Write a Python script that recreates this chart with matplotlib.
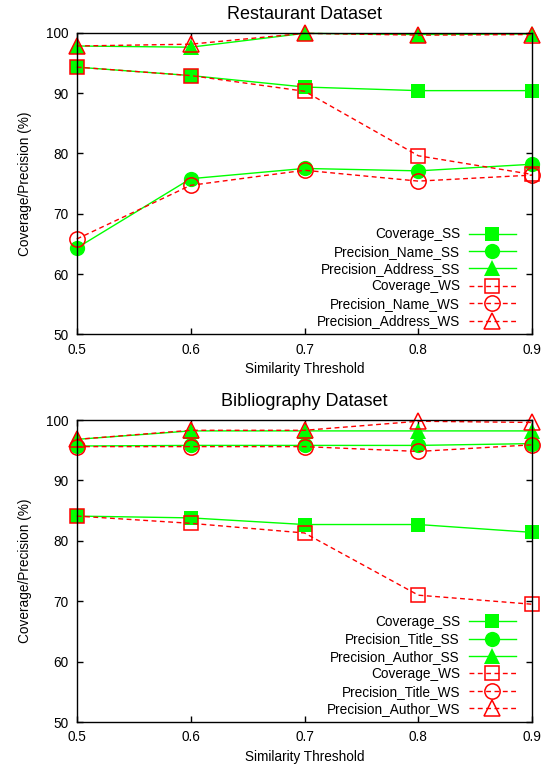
import matplotlib
matplotlib.use('Agg')
import matplotlib.pyplot as plt

plt.rcParams['font.family'] = ['Liberation Sans', 'DejaVu Sans']

thresholds = [0.5, 0.6, 0.7, 0.8, 0.9]
x_ticks = [0.5, 0.6, 0.7, 0.8, 0.9]
y_ticks = [50, 60, 70, 80, 90, 100]

# Restaurant dataset
rest_coverage_ss = [94.3, 92.9, 91.0, 90.4, 90.4]
rest_name_ss = [64.3, 75.8, 77.5, 77.1, 78.2]
rest_address_ss = [97.8, 97.6, 99.9, 99.7, 99.8]
rest_coverage_ws = [94.3, 92.9, 90.3, 79.6, 76.5]
rest_name_ws = [65.8, 74.7, 77.2, 75.4, 76.4]
rest_address_ws = [97.8, 98.1, 99.9, 99.6, 99.7]
rest_labels = ['Coverage_SS', 'Precision_Name_SS', 'Precision_Address_SS',
               'Coverage_WS', 'Precision_Name_WS', 'Precision_Address_WS']

# Bibliography dataset
bib_coverage_ss = [84.1, 83.8, 82.7, 82.7, 81.4]
bib_title_ss = [95.7, 95.8, 95.8, 95.8, 96.1]
bib_author_ss = [96.8, 98.2, 98.2, 98.2, 98.2]
bib_coverage_ws = [84.1, 82.9, 81.3, 71.0, 69.5]
bib_title_ws = [95.6, 95.6, 95.6, 94.8, 95.9]
bib_author_ws = [96.8, 98.3, 98.3, 99.8, 99.6]
bib_labels = ['Coverage_SS', 'Precision_Title_SS', 'Precision_Author_SS',
              'Coverage_WS', 'Precision_Title_WS', 'Precision_Author_WS']

GREEN = '#00ff00'
RED = '#ff0000'
FS = 9.8


def draw_panel(ax, title, ss_series, ws_series, labels):
    markers = ['s', 'o', '^']
    sizes = [10.5, 11, 11]
    for vals, m, ms, lab in zip(ss_series, markers, sizes, labels[:3]):
        ax.plot(thresholds, vals, color=GREEN, lw=1.0, marker=m, ms=ms,
                mfc=GREEN, mec=GREEN, mew=0, label=lab, clip_on=False)
    for vals, m, ms, lab in zip(ws_series, markers, sizes, labels[3:]):
        ax.plot(thresholds, vals, color=RED, lw=1.0, ls=(0, (3.5, 2.5)),
                marker=m, ms=ms, mfc='none', mec=RED, mew=1.1,
                label=lab, clip_on=False)

    ax.set_xlim(0.5, 0.9)
    ax.set_ylim(50, 100)
    ax.set_xticks(x_ticks)
    ax.set_xticklabels([str(t) for t in x_ticks])
    ax.set_yticks(y_ticks)
    ax.tick_params(direction='in', top=True, right=True, length=4,
                   width=1, labelsize=FS, pad=6)
    for s in ax.spines.values():
        s.set_linewidth(1.0)
    ax.set_title(title, fontsize=13, pad=10)
    ax.set_xlabel('Similarity Threshold', fontsize=FS, labelpad=4)
    ax.set_ylabel('Coverage/Precision (%)', fontsize=FS, labelpad=10)
    ax.legend(loc='lower right', bbox_to_anchor=(0.964, 0.02),
              frameon=False, markerfirst=False, fontsize=FS,
              handlelength=3.45, handletextpad=0.66, labelspacing=0.25,
              borderpad=0, borderaxespad=0)


def main():
    fig = plt.figure(figsize=(5.53, 7.70), dpi=100)
    ax1 = fig.add_axes([0.1387, 0.5658, 0.8239, 0.3917])
    ax2 = fig.add_axes([0.1387, 0.0623, 0.8239, 0.3922])

    draw_panel(ax1, 'Restaurant Dataset',
               [rest_coverage_ss, rest_name_ss, rest_address_ss],
               [rest_coverage_ws, rest_name_ws, rest_address_ws],
               rest_labels)
    draw_panel(ax2, 'Bibliography Dataset',
               [bib_coverage_ss, bib_title_ss, bib_author_ss],
               [bib_coverage_ws, bib_title_ws, bib_author_ws],
               bib_labels)

    fig.savefig('out.png', dpi=100)


if __name__ == "__main__":
    main()
